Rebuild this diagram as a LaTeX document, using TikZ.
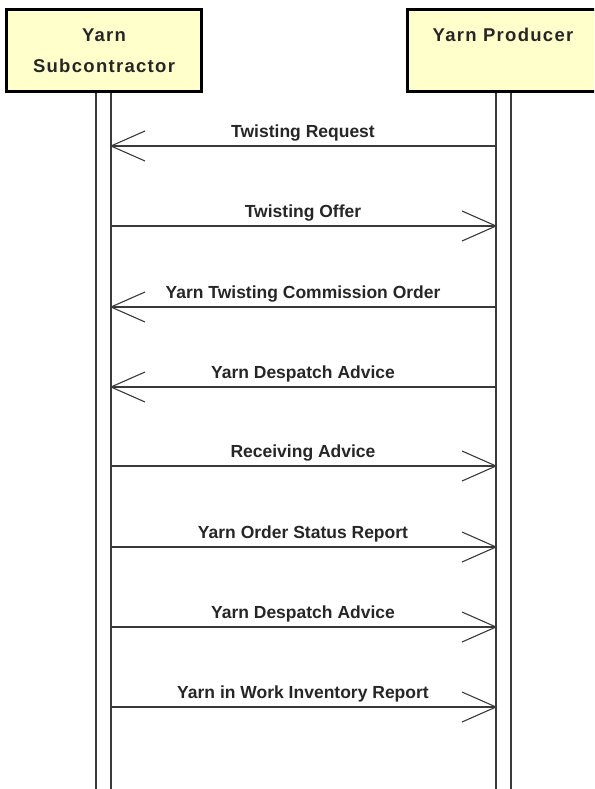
\documentclass[tikz,border=0pt]{standalone}
\usepackage{fontspec}
\setmainfont{Liberation Sans}
\newfontfamily\headfont[LetterSpace=7]{Liberation Sans}
\begin{document}
\begin{tikzpicture}[x=1pt,y=-1pt,
  actor/.style={draw=black,line width=2.6pt,fill=yellowbox,inner sep=0pt,anchor=north west},
  life/.style={draw=linegray,line width=1.4pt,fill=white},
  msg/.style={draw=linegray,line width=1.3pt},
  head/.style={draw=linegray,line width=1.1pt},
  hdr/.style={font=\headfont\bfseries\fontsize{18.5}{20}\selectfont,text=black!85,anchor=base,inner sep=0pt},
  lbl/.style={font=\bfseries\fontsize{17.5}{20}\selectfont,text=black!85,anchor=base,inner sep=0pt}]
\definecolor{yellowbox}{HTML}{FFFFCC}
\definecolor{linegray}{HTML}{3A3A3A}
\useasboundingbox (0,0) rectangle (594,789);
\begin{scope}
\clip (0,0) rectangle (594,789);
% lifelines
\path[life] (96,90) rectangle (111,800);
\path[life] (496,90) rectangle (511,800);
% actor boxes
\node[actor,minimum width=195pt,minimum height=82pt] (sub) at (5,8) {};
\node[actor,minimum width=200pt,minimum height=82pt] (prod) at (406,8) {};
\end{scope}
\node[hdr] (subt1) at (104,42) {Yarn};
\node[hdr] (subt2) at (104,73) {Subcontractor};
\node[hdr] (prodt) at (503,42) {Yarn Producer};
% lifeline anchor coordinates
\foreach \i/\y in {1/146,2/226,3/307,4/387,5/466,6/547,7/627,8/707}{
  \coordinate (L\i) at (111,\y);
  \coordinate (R\i) at (496,\y);
}
% messages leftwards
\foreach \i/\t in {1/Twisting Request,3/Yarn Twisting Commission Order,4/Yarn Despatch Advice}{
  \draw[msg] (R\i) -- (L\i);
  \draw[head] ([shift={(34,-15)}]L\i) -- (L\i) -- ([shift={(34,15)}]L\i);
  \node[lbl] (m\i) at ([shift={(192,-8.5)}]L\i) {\t};
}
% messages rightwards
\foreach \i/\t in {2/Twisting Offer,5/Receiving Advice,6/Yarn Order Status Report,7/Yarn Despatch Advice,8/Yarn in Work Inventory Report}{
  \draw[msg] (L\i) -- (R\i);
  \draw[head] ([shift={(-34,-15)}]R\i) -- (R\i) -- ([shift={(-34,15)}]R\i);
  \node[lbl] (m\i) at ([shift={(192,-8.5)}]L\i) {\t};
}
\end{tikzpicture}
\end{document}
